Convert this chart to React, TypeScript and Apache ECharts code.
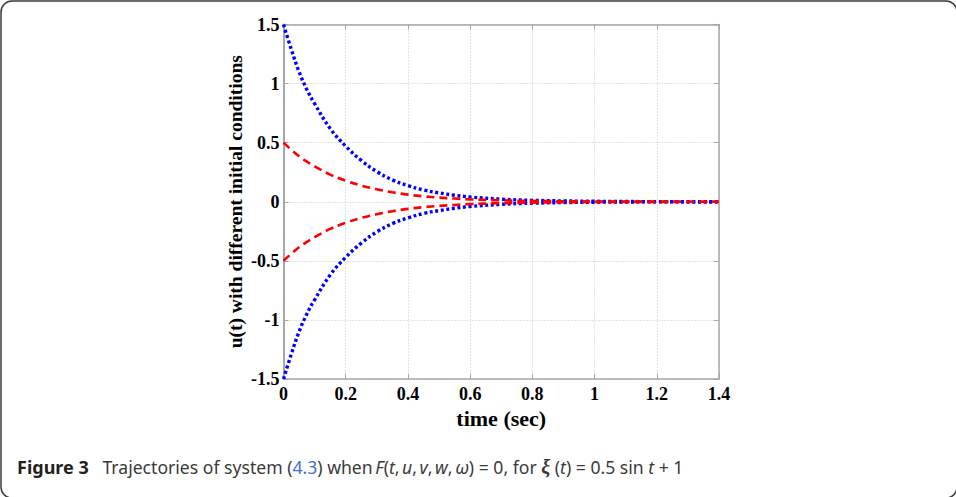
import React, { useEffect, useRef } from "react";
import * as echarts from "echarts";

const timeValues = [0, 0.025, 0.05, 0.075, 0.1, 0.15, 0.2, 0.25, 0.3, 0.35, 0.4, 0.45, 0.5, 0.55, 0.6, 0.7, 0.8, 0.9, 1.0, 1.1, 1.2, 1.3, 1.4];
const blueUpper = [1.5, 1.29, 1.1, 0.95, 0.83, 0.62, 0.47, 0.35, 0.255, 0.185, 0.137, 0.1, 0.075, 0.055, 0.04, 0.022, 0.012, 0.007, 0.004, 0.002, 0.001, 0.0005, 0.0003];
const blueLower = [-1.5, -1.29, -1.1, -0.95, -0.83, -0.62, -0.47, -0.35, -0.255, -0.185, -0.137, -0.1, -0.075, -0.055, -0.04, -0.022, -0.012, -0.007, -0.004, -0.002, -0.001, -0.0005, -0.0003];
const redUpper = [0.5, 0.44, 0.385, 0.34, 0.3, 0.23, 0.178, 0.137, 0.105, 0.08, 0.06, 0.046, 0.035, 0.027, 0.02, 0.012, 0.007, 0.004, 0.0025, 0.0015, 0.001, 0.0005, 0.0003];
const redLower = [-0.5, -0.44, -0.385, -0.34, -0.3, -0.23, -0.178, -0.137, -0.105, -0.08, -0.06, -0.046, -0.035, -0.027, -0.02, -0.012, -0.007, -0.004, -0.0025, -0.0015, -0.001, -0.0005, -0.0003];

const xTitle = "time (sec)";
const yTitle = "u(t) with different initial conditions";

const serif = "'Liberation Serif', 'Times New Roman', serif";
const sans = "'Noto Sans', 'Open Sans', sans-serif";

function pairs(ys: number[]) {
  return timeValues.map((t, i) => [t, ys[i]]);
}

export default function App() {
  const ref = useRef<HTMLDivElement>(null);
  useEffect(() => {
    if (!ref.current) return;
    const chart = echarts.init(ref.current, undefined, { renderer: "svg" });
    const axisGray = "#a6a6a6";
    const gridGray = "#c4c4c4";
    const tickLabel = { color: "#000", fontFamily: serif, fontWeight: "bold" as const, fontSize: 18 };
    chart.setOption({
      animation: false,
      backgroundColor: "#fff",
      grid: {
        left: 283.5,
        top: 24.5,
        right: 237,
        bottom: 118,
        containLabel: false,
        outerBoundsMode: "none",
        show: false,
      },
      xAxis: [
        {
          type: "value",
          min: 0,
          max: 1.4,
          interval: 0.2,
          position: "bottom",
          name: xTitle,
          nameLocation: "middle",
          nameGap: 22,
          nameTextStyle: { color: "#000", fontFamily: serif, fontWeight: "bold", fontSize: 22, verticalAlign: "top" },
          axisLine: { show: true, onZero: false, lineStyle: { color: axisGray, width: 1.5 } },
          axisTick: { show: true, inside: true, length: 5, lineStyle: { color: axisGray } },
          axisLabel: { ...tickLabel, margin: 6 },
          splitLine: { show: true, lineStyle: { color: gridGray, type: [1, 2], width: 1 } },
        },
        {
          type: "value",
          min: 0,
          max: 1.4,
          interval: 0.2,
          position: "top",
          axisLine: { show: true, onZero: false, lineStyle: { color: axisGray, width: 1.5 } },
          axisTick: { show: true, inside: true, length: 5, lineStyle: { color: axisGray } },
          axisLabel: { show: false },
          splitLine: { show: false },
        },
      ],
      yAxis: [
        {
          type: "value",
          min: -1.5,
          max: 1.5,
          interval: 0.5,
          position: "left",
          name: yTitle,
          nameLocation: "middle",
          nameGap: 38,
          nameTextStyle: { color: "#000", fontFamily: serif, fontWeight: "bold", fontSize: 19.5 },
          axisLine: { show: true, onZero: false, lineStyle: { color: axisGray, width: 2 } },
          axisTick: { show: true, inside: true, length: 5, lineStyle: { color: axisGray } },
          axisLabel: { ...tickLabel, margin: 4 },
          splitLine: { show: true, lineStyle: { color: gridGray, type: [1, 2], width: 1 } },
        },
        {
          type: "value",
          min: -1.5,
          max: 1.5,
          interval: 0.5,
          position: "right",
          axisLine: { show: true, onZero: false, lineStyle: { color: axisGray, width: 1.5 } },
          axisTick: { show: true, inside: true, length: 5, lineStyle: { color: axisGray } },
          axisLabel: { show: false },
          splitLine: { show: false },
        },
      ],
      series: [
        {
          type: "line",
          data: pairs(blueUpper),
          smooth: 0.4,
          showSymbol: false,
          lineStyle: { color: "#0000ff", width: 3.4, type: [3, 2.6], cap: "butt" },
        },
        {
          type: "line",
          data: pairs(blueLower),
          smooth: 0.4,
          showSymbol: false,
          lineStyle: { color: "#0000ff", width: 3.4, type: [3, 2.6], cap: "butt" },
        },
        {
          type: "line",
          data: pairs(redUpper),
          smooth: 0.4,
          showSymbol: false,
          lineStyle: { color: "#ff0000", width: 2.6, type: [8, 5], cap: "butt" },
        },
        {
          type: "line",
          data: pairs(redLower),
          smooth: 0.4,
          showSymbol: false,
          lineStyle: { color: "#ff0000", width: 2.6, type: [8, 5], cap: "butt" },
        },
      ],
      graphic: [
        {
          type: "rect",
          shape: { x: 1, y: 1, width: 956, height: 497, r: 11 },
          style: { fill: "none", stroke: "#3a3a3a", lineWidth: 1.5 },
          silent: true,
          z: 100,
        },
        {
          type: "text",
          x: 17,
          y: 467,
          style: {
            text:
              "{b|Figure 3}{n|   Trajectories of system (}{l|4.3}{n|) when}{s| }{i|F}{n|(}{i|t}{n|,}{s| }{i|u}{n|,}{s| }{i|v}{n|,}{s| }{i|w}{n|,}{s| }{i|ω}{n|) = 0, for }{x|ξ}{n| (}{i|t}{n|) = 0.5 sin }{i|t}{n| + 1}",
            verticalAlign: "middle",
            align: "left",
            rich: {
              b: { fontFamily: sans, fontWeight: "bold", fontSize: 18, fill: "#231f20" },
              n: { fontFamily: sans, fontSize: 17.6, fill: "#3a3a3a" },
              s: { fontFamily: sans, fontSize: 10, fill: "#3a3a3a" },
              l: { fontFamily: sans, fontSize: 17.6, fill: "#3b6fd4" },
              i: { fontFamily: sans, fontStyle: "italic", fontSize: 17.6, fill: "#3a3a3a" },
              x: { fontFamily: serif, fontStyle: "italic", fontWeight: "bold", fontSize: 20, fill: "#3a3a3a" },
            },
          },
          silent: true,
        },
      ],
    });
    return () => chart.dispose();
  }, []);
  return (
    <div
      ref={ref}
      style={{ position: "absolute", left: 0, top: 0, width: 956, height: 497 }}
    />
  );
}
